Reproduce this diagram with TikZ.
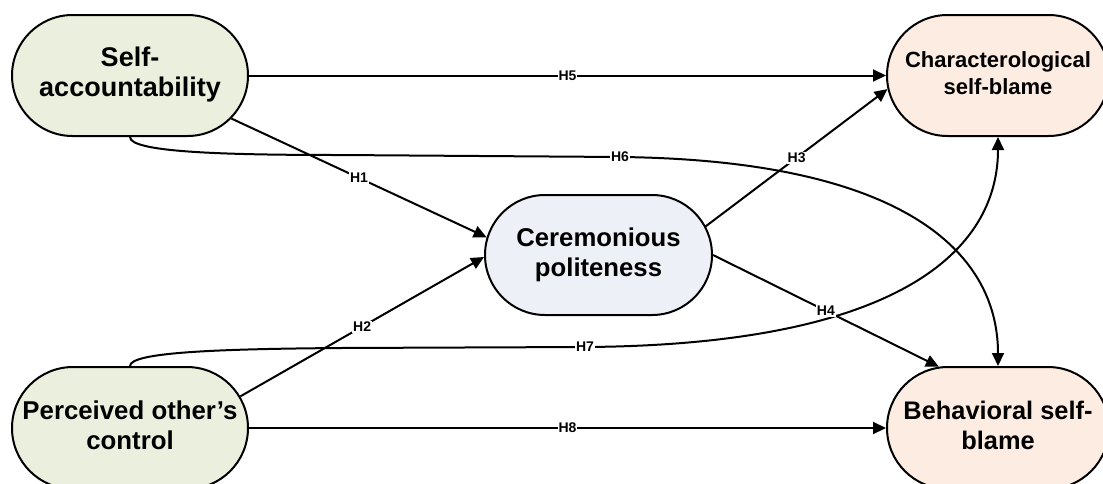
\documentclass[tikz,border=0pt]{standalone}
\usepackage{fontspec}
\setmainfont{Liberation Sans}
\usetikzlibrary{shapes.misc,arrows.meta}
\definecolor{greenfill}{RGB}{235,239,222}
\definecolor{bluefill}{RGB}{237,240,246}
\definecolor{peachfill}{RGB}{252,236,225}
\newcommand{\stacktxt}[1]{\makebox[0pt][c]{\begin{tabular}{@{}c@{}}#1\end{tabular}}}
\begin{document}
\begin{tikzpicture}[x=1pt,y=-1pt,
  stad/.style={rounded rectangle, draw=black, line width=2pt, inner sep=0pt},
  conn/.style={line width=2pt, -{Triangle[length=13pt,width=12pt]}},
  lbl/.style={fill=white, inner sep=1pt, font=\fontsize{14}{16}\selectfont\bfseries}]
\useasboundingbox (0,0) rectangle (1103,483);
\node[stad, fill=greenfill, minimum width=236pt, minimum height=121pt,
  font=\fontsize{27}{30}\selectfont\bfseries] (sa) at (130,75.5) {\stacktxt{Self-\\accountability}};
\node[stad, fill=peachfill, minimum width=222pt, minimum height=121pt,
  font=\fontsize{22}{27}\selectfont\bfseries] (csb) at (998,75.5) {\stacktxt{Characterological\\self-blame}};
\node[stad, fill=bluefill, minimum width=227pt, minimum height=120pt,
  font=\fontsize{25.7}{30}\selectfont\bfseries] (cp) at (598.5,255) {\stacktxt{Ceremonious\\politeness}};
\node[stad, fill=greenfill, minimum width=236pt, minimum height=122pt,
  font=\fontsize{25.8}{30}\selectfont\bfseries] (poc) at (130,428) {\stacktxt{Perceived other’s\\control}};
\node[stad, fill=peachfill, minimum width=222pt, minimum height=122pt,
  font=\fontsize{25.4}{30}\selectfont\bfseries] (bsb) at (998,428) {\stacktxt{Behavioral self-\\blame}};

\draw[conn] (sa.south) .. controls (130,152) and (220,155) .. (340,155) -- (620,157) node[lbl] (h6) {H6}
  .. controls (900,160) and (998,250) .. (bsb.north);
\draw[conn] (poc.north) .. controls (130,352) and (220,349) .. (340,348) -- (585,347) node[lbl] (h7) {H7}
  .. controls (900,345) and (998,250) .. (csb.south);
\draw[conn] (sa.east) -- node[lbl] (h5) {H5} (csb.west);
\draw[conn] (poc.east) -- node[lbl] (h8) {H8} (bsb.west);
\draw[conn] (sa.-23) -- node[lbl] (h1) {H1} (cp.171.5);
\draw[conn] (poc.16) -- node[lbl] (h2) {H2} (cp.181.5);
\draw[conn] (cp.15.5) -- node[lbl] (h3) {H3} (csb.187.4);
\draw[conn] (cp.east) -- node[lbl] (h4) {H4} (bsb.134);
\end{tikzpicture}
\end{document}
